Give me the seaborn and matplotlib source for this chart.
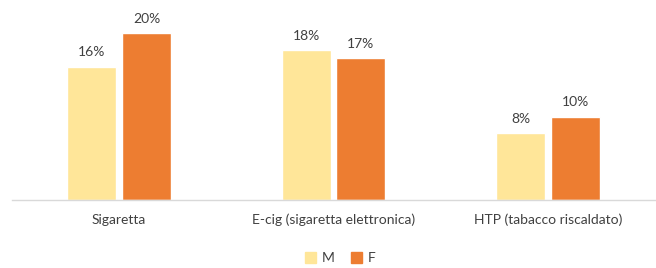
import pandas as pd
import matplotlib.pyplot as plt
import seaborn as sns

categories = ["Sigaretta", "E-cig (sigaretta elettronica)", "HTP (tabacco riscaldato)"]
m_values = [16, 18, 8]
f_values = [20, 17, 10]
groups = ["M", "F"]
colors = {"M": "#FFE699", "F": "#ED7D31"}

df = pd.DataFrame({
    "Categoria": categories * 2,
    "Sesso": ["M"] * len(categories) + ["F"] * len(categories),
    "Valore": m_values + f_values,
})

sns.set_style("white")
plt.rcParams["font.family"] = ["Lato", "DejaVu Sans"]

fig = plt.figure(figsize=(6.56, 2.68), dpi=100)
ax = fig.add_axes([12 / 656, 68 / 268, 643 / 656, 200 / 268])

sns.barplot(data=df, x="Categoria", y="Valore", hue="Sesso", hue_order=groups,
            palette=colors, width=0.51, gap=0.1, ax=ax, legend=False,
            saturation=1, errorbar=None)

for cont in ax.containers:
    ax.bar_label(cont, labels=[f"{v:.0f}%" for v in cont.datavalues],
                 padding=6, fontsize=10, color="#404040")

ax.set_ylim(0, 24)
ax.set_xlim(-0.5, 2.5)
ax.set_xlabel("")
ax.set_ylabel("")
ax.set_yticks([])
for s in ["top", "right", "left"]:
    ax.spines[s].set_visible(False)
ax.spines["bottom"].set_color("#D9D9D9")
ax.spines["bottom"].set_linewidth(1)
ax.tick_params(axis="x", length=0, pad=10, labelsize=10, labelcolor="#404040")

# legenda in basso al centro
handles = [plt.Rectangle((0, 0), 1, 1, color=colors[g]) for g in groups]
fig.legend(handles, groups, loc="center", bbox_to_anchor=(340 / 656, 1 - 258 / 268),
           ncol=2, frameon=False, handlelength=0.8, handleheight=0.8,
           handletextpad=0.4, columnspacing=1.2, fontsize=10,
           labelcolor="#404040")

fig.savefig("out.png", dpi=100)
